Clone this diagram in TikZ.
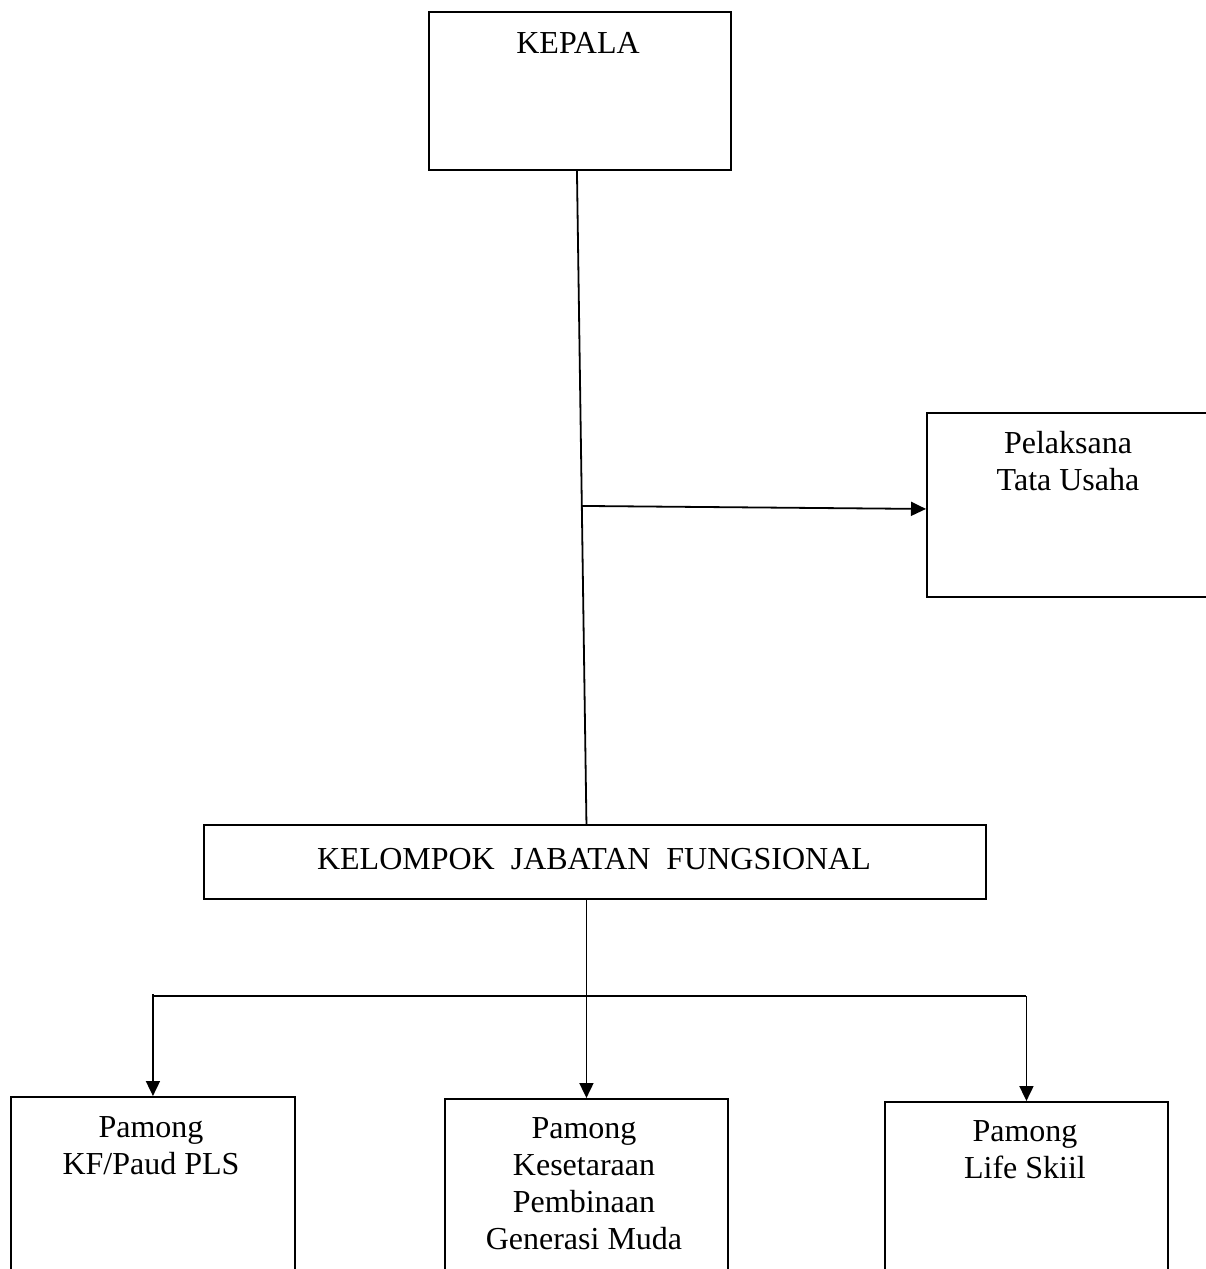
\documentclass[tikz,border=0pt]{standalone}
\usepackage{fontspec}
\setmainfont{Liberation Serif}
\usetikzlibrary{arrows.meta,calc}
\tikzset{
  box/.style={draw, line width=1.9pt, inner sep=0pt, anchor=north west},
  lbl/.style={inner sep=0pt, align=center, font=\fontsize{32}{37}\selectfont},
  conn/.style={line width=1.8pt},
  arr/.style={line width=1.8pt, -{Triangle[length=15pt,width=14pt]}}
}
\begin{document}
\begin{tikzpicture}[x=1pt,y=1pt]
\useasboundingbox[fill=white] (0,0) rectangle (1206,-1269);
% boxes
\node[box, minimum width=302pt, minimum height=158pt] (kepala) at (428,-11) {};
\node[box, minimum width=300pt, minimum height=184pt] (tu) at (926,-412) {};
\node[box, minimum width=782pt, minimum height=74pt] (kjf) at (203,-824) {};
\node[box, minimum width=284pt, minimum height=200pt] (pl) at (10,-1096) {};
\node[box, minimum width=283pt, minimum height=200pt] (pm) at (444,-1098) {};
\node[box, minimum width=283pt, minimum height=200pt] (pr) at (884,-1101) {};
% texts
\node[lbl, anchor=base] (tkepala) at (578,-53) {KEPALA};
\node[lbl, anchor=north] (ttu) at (1068,-427) {\strut Pelaksana\\\strut Tata Usaha};
\node[lbl, anchor=base] (tkjf) at (594,-869) {KELOMPOK\ \ JABATAN\ \ FUNGSIONAL};
\node[lbl, anchor=north] (tpl) at (151,-1111) {\strut Pamong\\\strut KF/Paud PLS};
\node[lbl, anchor=north] (tpm) at (584,-1112) {\strut Pamong\\\strut Kesetaraan\\\strut Pembinaan\\\strut Generasi Muda};
\node[lbl, anchor=north] (tpr) at (1025,-1115) {\strut Pamong\\\strut Life Skiil};
% connectors
\coordinate (ktop) at ([xshift=-3pt]kepala.south);
\coordinate (kbot) at (pm.north |- kjf.north);
\draw[conn] (ktop) -- (kbot);
\coordinate (j1) at ($(ktop)!0.513!(kbot)$);
\draw[arr] (j1) -- ([yshift=-4pt]tu.west);
\coordinate (bm) at (pm.north |- kjf.south);
\draw[arr] (bm) -- (pm.north);
\coordinate (bl) at ($(pl.north)+(0,100)$);
\coordinate (br) at ($(pr.north)+(0,105)$);
\draw[conn] ([yshift=2pt]bl) -- (bl) -- (br);
\draw[arr] (bl) -- (pl.north);
\draw[arr] (br) -- (pr.north);
\end{tikzpicture}
\end{document}
